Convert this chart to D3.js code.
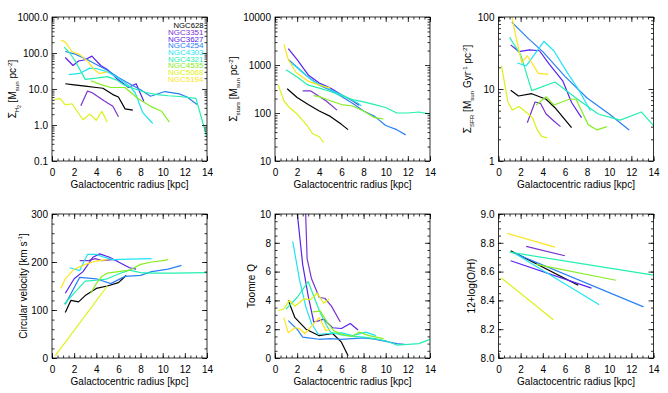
<!DOCTYPE html>
<html><head><meta charset="utf-8">
<script src="https://cdn.jsdelivr.net/npm/d3@7"></script>
<style>
body{margin:0;background:#fff}
text{font-family:"Liberation Sans",Arial,Helvetica,sans-serif;fill:#000}
</style>
</head><body>
<svg id="c" width="668" height="393"></svg>
<script>
// ---------------- data ----------------
const galaxies = ["NGC628","NGC3351","NGC3627","NGC4254","NGC4303","NGC4321","NGC4535","NGC5068","NGC5194"];
const colors   = ["#000000","#7a34cc","#5a22ee","#2a80f4","#1ee4f4","#22f0b0","#86ee22","#dcf212","#fde41c"];

const radiusTicks = [0,2,4,6,8,10,12,14];

const sigmaH2 = [
  [[1.2,14],[2,13],[3,12],[4,11],[4.6,10.5],[5.5,7],[6,6],[6.6,2.8],[7.3,2.6]],
  [[2.6,3.4],[3.2,8.7],[3.6,8],[4.1,6.3],[4.7,4.7],[5.5,3.3],[6,1.7]],
  [[1.2,75],[1.9,45],[2.4,60],[3,65],[3.6,82],[4.4,45],[5,35],[5.9,19],[6.9,11],[7.6,14],[8.3,4.5]],
  [[1.2,110],[2,95],[3,70],[4,48],[5,33],[6,21],[7,14],[8,9.5],[8.9,6.3],[10.2,8.5],[11.5,7.3],[12.2,6],[13.1,3.7]],
  [[1.5,25],[2.5,27],[3.4,38],[4,37],[5,30],[6,20],[7,12],[7.5,8],[8.2,2.2],[9.1,1.1]],
  [[1.1,145],[1.6,100],[2.1,60],[3,18.5],[4,20],[5,22],[5.8,18],[6.5,13],[7.5,10],[8.5,8],[9.5,7],[10.5,6.5],[11.5,6.2],[13,5.5],[14,0.45]],
  [[3.5,17],[4.5,13],[5.3,11],[6.6,11],[7.7,5.6],[8.9,3.3],[9.9,2.4],[10.6,1.2]],
  [[0.2,5.1],[0.75,5.4],[1.2,3.6],[1.8,3.9],[2.8,1.4],[3.4,2.0],[4.0,1.35],[4.5,2.4],[5.0,1.2]],
  [[0.8,230],[1.2,200],[1.8,110],[2.5,90],[3.2,60],[3.8,35],[4.3,27],[5,30]]
];
const sigmaStars = [
  [[1.1,320],[2,210],[3,150],[4,110],[5,85],[6,58],[6.6,45]],
  [[2.5,290],[3.2,290],[4,220],[4.6,180],[5.6,115]],
  [[1.2,2200],[2,1300],[3,620],[4,420],[5,330],[6,240],[7,180],[7.6,145]],
  [[1.2,1300],[2,900],[3,560],[4,380],[5,300],[6,220],[7,160],[8,110],[9,85],[10,55],[11,45],[11.8,35]],
  [[1.5,1100],[2.5,700],[3.5,450],[4.5,350],[5.5,270],[6.5,210],[7.5,160],[7.8,140]],
  [[1,800],[2,560],[3,380],[4,330],[5,280],[6,230],[7,190],[8,170],[9,150],[10,130],[11,100],[12,100],[13,105],[14,95]],
  [[3.5,230],[4,220],[5,180],[6,150],[7,140],[8,110],[9,80],[9.8,75]],
  [[0.3,380],[0.8,180],[1.3,130],[2,95],[2.9,55],[3.4,37],[4,32],[4.4,24]],
  [[0.8,2700],[1.2,1300],[1.9,700],[3,460],[4,380],[5,330]]
];
const sigmaSFR = [
  [[1.1,9.6],[1.8,8],[3,8.6],[4.3,7.2],[5.1,5.5],[6.6,2.9]],
  [[2.6,3.4],[3.3,6.6],[3.8,6.3],[4.3,4.5],[5,3.6],[5.6,3]],
  [[1.1,41],[1.85,33],[2.8,35],[3.7,34],[4.6,22],[5.8,13],[6.6,6.5],[7.5,4]],
  [[1.2,85],[2.7,50],[4,33],[6,15],[8,7.5],[10,4.5],[11.8,2.7]],
  [[1.7,23],[2.5,21],[4.1,46],[5,34],[6.2,17],[7.2,10],[8.3,5]],
  [[1,52],[2,30],[3,9.5],[5.1,12.5],[7,7.5],[9,4.5],[11,3.7],[12.9,4.8],[14,3.1]],
  [[3.4,6],[4.3,7.8],[5,6],[6.4,7.2],[7,7.2],[8.1,3.2],[8.9,2.7],[9.8,3]],
  [[0.27,21],[0.85,6.6],[1.25,5.1],[1.85,5.7],[2.7,4.5],[3.1,3.9],[3.5,2.7],[3.9,2.2],[4.4,2.1]],
  [[1.1,125],[1.5,60],[2.1,23],[2.6,29],[3.6,16.5],[4.5,16]]
];
const vCirc = [
  [[1.2,95],[1.7,120],[2.4,117],[3,130],[4,145],[5,150],[6,157],[6.7,172]],
  [[2.5,203],[3.3,203],[3.9,207],[4.5,203],[5.5,205],[6,205]],
  [[1.2,135],[2,165],[2.8,180],[3.4,200],[3.7,210],[4.3,217],[5.2,210],[6,200],[7,188],[7.6,185]],
  [[1.2,112],[2.5,168],[4,165],[5.3,155],[6.6,170],[8,172],[9,180],[10.5,185],[11.7,193]],
  [[1.6,188],[2.5,182],[3.2,216],[4,216],[4.7,210],[5.5,205],[7,206],[9,207]],
  [[1.1,112],[2,135],[3,160],[4,162],[5,165],[6,175],[7,183],[8,178],[9,177],[11,177],[14,178]],
  [[3.5,135],[4,155],[4.5,170],[5,177],[6,180],[7,183],[8,195],[9,200],[10,203],[10.5,205]],
  [[0.3,5],[5,150]],
  [[0.8,145],[1.2,165],[2,185],[3,195],[4,202],[5,205]]
];
const toomreQ = [
  [[1.2,4.0],[1.8,2.8],[2.8,2.0],[4,1.55],[5.2,1.7],[6,1.1],[6.6,0.15]],
  [[2.75,10.5],[2.9,6.9],[3.3,5.5],[4,4.2],[4.5,4.15],[5.1,3.6],[5.9,2.5]],
  [[1.95,10.5],[2.5,6.5],[3.0,4.3],[3.5,2.5],[4.0,2.6],[4.4,2.7],[5.2,2.1],[6,2.05],[6.8,2.4],[7.5,1.95]],
  [[1.2,2.6],[2,2.0],[2.5,1.45],[3,1.4],[4,1.3],[5,1.35],[6,1.3],[7,1.35],[8,1.4],[9,1.3],[10,1.15],[11,1.0],[11.7,0.95]],
  [[1.6,8.1],[2.2,5.5],[2.8,3.5],[3.3,2.4],[3.9,1.65],[5,1.7],[6,1.75],[7,1.55],[8.2,1.8],[9.1,1.55]],
  [[1,3.4],[2,4.2],[3,5.3],[3.5,4.3],[4,3.3],[4.5,2.5],[5,1.8],[6,1.6],[7,1.5],[8,1.45],[9,1.35],[10,1.2],[11,0.9],[12,0.95],[13,1.0],[14,1.3]],
  [[3.4,3.2],[4.1,3.25],[4.7,2.5],[5.3,1.9],[6,1.65],[7,1.5],[7.6,1.8],[8.5,1.55],[9.8,1.35]],
  [[0.3,3.3],[0.8,3.4],[1.3,4.0],[1.8,3.6],[2.6,4.1],[3.2,4.05],[3.8,4.5],[4.4,3.8],[4.9,4.1]],
  [[0.8,2.8],[1.2,1.75],[1.8,2.1],[2.2,2.05],[2.7,1.7],[3.4,2.3],[4,2.8],[4.6,1.9],[5,2.0]]
];
const metallicity = [
  [[1.1,8.745],[7.2,8.505]],
  [[2.5,8.775],[6,8.71]],
  [[1.1,8.675],[8.4,8.485]],
  [[1.2,8.735],[13.1,8.355]],
  [[1.6,8.72],[9.1,8.37]],
  [[1,8.735],[14,8.575]],
  [[3.4,8.65],[10.6,8.54]],
  [[0.27,8.555],[4.95,8.265]],
  [[0.8,8.865],[5.1,8.77]]
];

const h2Ticks = [0.1,1,10,100,1000], h2Labels = ["0.1","1.0","10.0","100.0","1000.0"];
const starTicks = [10,100,1000,10000], starLabels = ["10","100","1000","10000"];
const sfrTicks = [1,10,100], sfrLabels = ["1","10","100"];
const vTicks = [0,100,200,300];
const qTicks = [0,2,4,6,8,10];
const ohTicks = [8.0,8.2,8.4,8.6,8.8,9.0];

// ---------------- drawing ----------------
const svg = d3.select("#c");
const W = 155, H = 144;
const cols = [52, 275, 498.5];
const rows = [17, 214];
const FS = 10;

function logMinors(dom){
  const out=[]; for(let d=dom[0]; d<dom[1]; d*=10){ for(let k=2;k<=9;k++) out.push(d*k); } return out;
}
function linMinors(a,b,step){ const out=[]; for(let v=a; v<=b+1e-9; v+=step) out.push(+v.toFixed(4)); return out; }

function richText(sel, parts, size){
  const t = sel.append("text").attr("font-size", size);
  let cur = 0;
  parts.forEach(([s,type])=>{
    let off=0, fs=size;
    if(type==="sub"){off=0.28*size; fs=0.62*size;}
    if(type==="sup"){off=-0.42*size; fs=0.62*size;}
    if(type==="subsub"){off=0.5*size; fs=0.45*size;}
    t.append("tspan").attr("dy", off-cur).attr("font-size", fs).text(s);
    cur = off;
  });
  return t;
}

let clipId = 0;
function panel(o){
  const g = svg.append("g").attr("transform",`translate(${o.x},${o.y})`);
  const xs = d3.scaleLinear().domain([0,14]).range([0,W]);
  const ys = (o.log ? d3.scaleLog() : d3.scaleLinear()).domain(o.dom).range([H,0]);
  const cid = "clip"+(clipId++);
  g.append("clipPath").attr("id",cid).append("rect").attr("width",W).attr("height",H);

  const line = d3.line().x(d=>xs(d[0])).y(d=>ys(d[1]));
  const lg = g.append("g").attr("clip-path",`url(#${cid})`);
  o.data.forEach((ser,i)=>{
    lg.append("path").attr("d",line(ser)).attr("fill","none")
      .attr("stroke",colors[i]).attr("stroke-width",1.2).attr("stroke-linejoin","round");
  });

  const style = a => { a.select(".domain").remove(); a.selectAll("line").attr("stroke","#000").attr("stroke-width",0.8); a.selectAll("text").attr("font-size",FS).attr("font-family",'"Liberation Sans",Arial,sans-serif'); };
  const xMin = linMinors(0,14,0.5);
  g.append("g").attr("transform",`translate(0,${H})`).call(d3.axisBottom(xs).tickValues(xMin).tickSize(-2.5).tickFormat("")).call(style);
  g.append("g").attr("transform",`translate(0,${H})`).call(d3.axisBottom(xs).tickValues(radiusTicks).tickSize(-5).tickPadding(8).tickFormat(d3.format("d"))).call(style);
  g.append("g").call(d3.axisTop(xs).tickValues(xMin).tickSize(-2.5).tickFormat("")).call(style);
  g.append("g").call(d3.axisTop(xs).tickValues(radiusTicks).tickSize(-5).tickFormat("")).call(style);

  g.append("g").call(d3.axisLeft(ys).tickValues(o.minors).tickSize(-2.5).tickFormat("")).call(style);
  g.append("g").call(d3.axisLeft(ys).tickValues(o.ticks).tickSize(-5).tickPadding(4).tickFormat((d,i)=>o.labels[i])).call(style);
  g.append("g").attr("transform",`translate(${W},0)`).call(d3.axisRight(ys).tickValues(o.minors).tickSize(-2.5).tickFormat("")).call(style);
  g.append("g").attr("transform",`translate(${W},0)`).call(d3.axisRight(ys).tickValues(o.ticks).tickSize(-5).tickFormat("")).call(style);

  g.append("rect").attr("width",W).attr("height",H).attr("fill","none").attr("stroke","#000").attr("stroke-width",0.8);

  g.append("text").attr("x",W/2).attr("y",H+26.5).attr("text-anchor","middle").attr("font-size",FS).text("Galactocentric radius [kpc]");
  const yt = richText(g, o.ytitle, FS);
  yt.attr("text-anchor","middle").attr("transform",`translate(${o.ytx},${H/2}) rotate(-90)`);
  return {g,xs,ys};
}

panel({x:cols[0],y:rows[0],log:true,dom:[0.1,1000],data:sigmaH2,ticks:h2Ticks,labels:h2Labels,minors:logMinors([0.1,1000]),
  ytx:-36, ytitle:[["Σ","n"],["H","sub"],["2","subsub"],[" [M","n"],["sun","sub"],[" pc","n"],["-2","sup"],["]","n"]]});
panel({x:cols[1],y:rows[0],log:true,dom:[10,10000],data:sigmaStars,ticks:starTicks,labels:starLabels,minors:logMinors([10,10000]),
  ytx:-38, ytitle:[["Σ","n"],["stars","sub"],[" [M","n"],["sun","sub"],[" pc","n"],["-2","sup"],["]","n"]]});
panel({x:cols[2],y:rows[0],log:true,dom:[1,100],data:sigmaSFR,ticks:sfrTicks,labels:sfrLabels,minors:logMinors([1,100]),
  ytx:-27.5, ytitle:[["Σ","n"],["SFR","sub"],[" [M","n"],["sun","sub"],[" Gyr","n"],["-1","sup"],[" pc","n"],["-2","sup"],["]","n"]]});
panel({x:cols[0],y:rows[1],log:false,dom:[0,300],data:vCirc,ticks:vTicks,labels:vTicks.map(String),minors:linMinors(0,300,20),
  ytx:-25.5, ytitle:[["Circular velocity [km s","n"],["-1","sup"],["]","n"]]});
panel({x:cols[1],y:rows[1],log:false,dom:[0,10],data:toomreQ,ticks:qTicks,labels:qTicks.map(String),minors:linMinors(0,10,0.5),
  ytx:-20, ytitle:[["Toomre Q","n"]]});
panel({x:cols[2],y:rows[1],log:false,dom:[8,9],data:metallicity,ticks:ohTicks,labels:ohTicks.map(d=>d.toFixed(1)),minors:linMinors(8,9,0.05),
  ytx:-23.5, ytitle:[["12+log(O/H)","n"]]});

// legend (small, tightly stacked as in the reference)
const leg = svg.append("g");
galaxies.forEach((n,i)=>{
  leg.append("text").attr("x",203.5).attr("y",28.3+i*6.68).attr("text-anchor","end")
    .attr("font-size",6.6).attr("textLength", n.length===6 ? 30 : 35.5).attr("lengthAdjust","spacingAndGlyphs")
    .style("fill",colors[i]).text(n);
});
</script>
</body></html>
